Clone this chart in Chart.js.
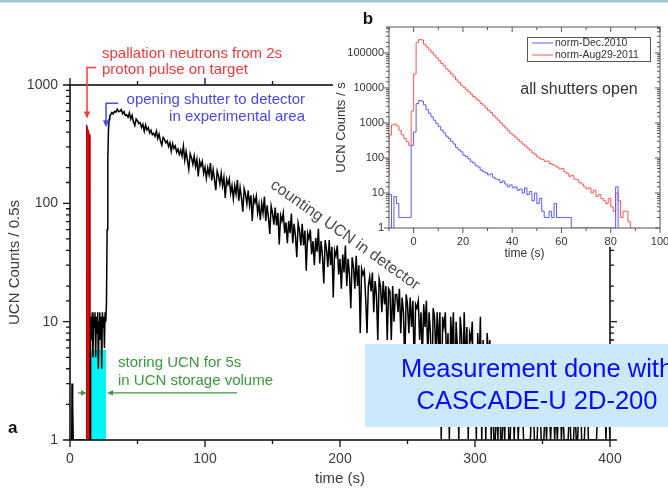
<!DOCTYPE html>
<html>
<head>
<meta charset="utf-8">
<script src="https://cdn.jsdelivr.net/npm/chart.js@4.4.0/dist/chart.umd.min.js"></script>
<style>
  body { margin: 0; width: 668px; height: 488px; overflow: hidden; background: #fff; position: relative; }
  #main { position: absolute; left: 0; top: 0; }
  #inset { position: absolute; left: 333px; top: 0; }
  #rule { position: absolute; left: 0; top: 0; width: 668px; height: 2px; background: #9ec3d3; border-bottom: 1px solid #d6e7ef; }
</style>
</head>
<body>
<canvas id="main" width="668" height="488"></canvas>
<canvas id="inset" width="335" height="262"></canvas>
<div id="rule"></div>
<script>
const FONT = '"Liberation Sans", Arial, Helvetica, sans-serif';
Chart.defaults.font.family = FONT;
Chart.defaults.color = '#3a3a3a';

// ---------- panel a : UCN counts per 0.5 s ----------
const bgTimes = [0, 1.3, 1.5, 1.7, 2.0, 2.2, 2.4, 14.9];
const bgCounts = [1, 1, 3, 1, 1, 2, 1, 1];

// 2 s proton pulse
const pulseTimes = [11.9, 12.3, 13.3, 14.4, 14.8];
const pulseCounts = [1, 460, 420, 380, 1];

// storage period, 0.5 s bins from 15 s
const storeStart = 15.0;
const binWidth = 0.5;
const storeCounts = [6, 11, 7, 12, 5, 11, 9, 12, 5, 11, 8, 12, 4, 10, 12, 7, 11, 4, 12, 9, 11, 6, 12, 10];
const storeSpan = [15.4, 26.7];
const storeLevel = 5.8;

// shutter opening
const riseTimes = [27, 27.5, 28, 28.5, 29, 29.5];
const riseCounts = [14, 60, 230, 420, 510, 550];

// emptying, one point per second from 30 s to 310 s
const decayStart = 30;
const decayCounts = [
  560, 585, 570, 600, 590, 625, 595,
  600, 621, 571, 595, 554,  561, 533, 581, 515, 554,  488, 455, 516, 499, 472,
  481, 438, 466, 407, 460,  418, 436, 394, 414, 380,  391, 368, 408, 353, 385,
  337, 310, 361, 347, 324,  337, 302, 325, 276, 320,  291, 306, 270, 287, 259,
  282, 251, 305, 231, 274,  231, 194, 263, 243, 214,  251, 204, 235, 169, 228,
  206, 226, 179, 202, 163,  199, 174, 219, 156, 193,  160, 129, 187, 170, 146,
  179, 140, 166, 111, 160,  144, 161, 122, 141, 109,  141, 120, 157, 105, 136,
  111, 85, 133, 119, 99,    128, 96, 117, 71, 112,    101, 115, 83, 98, 72,
  100, 83, 114, 71, 96,     76, 55, 95, 83, 66,       92, 65, 83, 45, 79,
  71, 83, 56, 69, 46,       71, 56, 82, 46, 67,       53, 35, 68, 59, 44,
  67, 44, 59, 27, 56,       50, 60, 37, 48, 30,       51, 39, 61, 31, 48,
  36, 21, 49, 41, 29,       49, 30, 43, 16, 40,       36, 44, 25, 34, 19,
  37, 26, 44, 20, 34,       25, 13, 35, 29, 19,       36, 20, 30, 8, 28,
  25, 27, 16, 8, 20,        24, 18, 26, 12, 22,       17, 7, 23, 20, 12,
  22, 14, 20, 7, 19,        18, 7, 20, 10, 17,        17, 12, 19, 8, 16,
  12, 4, 17, 14, 8,         16, 9, 15, 4, 14,         13, 15, 7, 12, 5,
  14, 9, 15, 5, 12,         8, 2, 13, 11, 5,          12, 6, 12, 1, 11,
  9, 12, 4, 8, 1,           11, 6, 12, 2, 10,         6, 1, 11, 8, 3,
  12, 4, 9, 1, 8,           7, 10, 2, 6, 1,           8, 4, 11, 1, 7,
  4, 1, 8, 5
];

// sparse counts after 310 s
const tailStart = 311;
const tailCounts = [
  7, 1, 3, 1, 1, 2, 1, 6, 1, 1,
  2, 1, 3, 5, 1, 1, 2, 3, 1, 2,
  3, 1, 2, 4, 2, 1, 1, 1, 1, 1,
  1, 2, 3, 1, 1, 1, 2, 3, 1, 1,
  1, 2, 1, 3, 2, 1, 2, 3, 1, 2,
  1, 2, 3, 1, 2, 1, 1, 1, 1, 2,
  1, 1, 1, 2, 1, 1, 2, 3, 1, 1,
  1, 2, 3, 1, 1, 1, 1, 1, 1, 1,
  2, 3, 2, 4, 2, 3, 1, 3, 2, 1
];

const mainXTicks = [0, 100, 200, 300, 400];
const mainYTicks = [1, 10, 100, 1000];

// annotation anchors (time s, counts)
const pulseMark = { t: 12.6, v: 520 };
const shutterMark = { t: 26.7, v: 440 };
const storeMark = { from: 12.6, to: 27.4, v: 2.5, tailLeft: 5.9, tailRight: 123.7 };

// ---------- panel b : counts per second, all shutters open ----------
const insetStart = -10;
const insetSeries = ['norm-Dec.2010', 'norm-Aug29-2011'];
const decCounts = [
  10, 9, 0.5, 8, 5, 2, 2, 2, 2, 2,
  230, 550, 3600, 4400, 4200, 3300, 2400, 1900, 1500, 1200,
  950, 800, 620, 520, 420, 360, 300, 250, 200, 170,
  150, 120, 110, 95, 80, 72, 60, 55, 45, 40,
  38, 33, 35, 28, 25, 24, 20, 22, 18, 15,
  17, 14, 15, 12, 13, 10, 14, 9, 11, 6,
  10, 5, 7, 3, 2, 2, 3, 2, 5, 2,
  2, 2, 2, 2, 2, 1, 1, 1, 1, 1,
  1, 1, 1, 1, 1, 1, 1, 1, 1, 1,
  1, 1, 1, 15, 0.5, 0.5, 0.5, 0.5, 0.5, 0.5,
  0.5, 0.5, 0.5, 0.5, 0.5, 0.5, 0.5, 0.5, 0.5, 0.5
];
const augCounts = [
  30, 450, 880, 920, 820, 620, 460, 360, 290, 230,
  2200, 25000, 200000, 240000, 235000, 178000, 148000, 123000, 105000, 87000,
  72000, 60000, 50000, 43000, 35000, 30000, 25000, 21000, 17000, 14500,
  12000, 10500, 9000, 7800, 6600, 5700, 4900, 4300, 3600, 3200,
  2700, 2300, 2000, 1650, 1400, 1200, 1000, 850, 720, 600,
  510, 450, 390, 340, 290, 250, 220, 190, 165, 140,
  125, 107, 95, 90, 80, 82, 70, 65, 60, 55,
  48, 50, 40, 36, 30, 32, 25, 24, 20, 18,
  15, 13, 14, 10, 12, 8, 9, 7, 6, 5,
  7, 4, 3, 10, 6, 2, 3, 3, 1.5, 1,
  0.5, 0.5, 1, 0.5, 0.5, 0.5, 0.5, 0.5, 0.5, 0.5
];
const insetXTicks = [0, 20, 40, 60, 80, 100];

// ---------- helpers ----------
const isDecade = v => { const e = Math.round(Math.log10(v)); return Math.abs(v - Math.pow(10, e)) < 1e-6; };
const pts = (times, vals) => vals.map((v, i) => ({ x: times[i], y: v }));
const regular = (start, step, vals) => vals.map((v, i) => ({ x: start + i * step, y: v }));
const steps = vals => {
  const p = regular(insetStart, 1, vals);
  p.push({ x: insetStart + vals.length, y: vals[vals.length - 1] });
  return p;
};

const countsLine = [
  ...pts(bgTimes, bgCounts),
  ...regular(storeStart, binWidth, storeCounts),
  ...pts(riseTimes, riseCounts),
  ...regular(decayStart, 1, decayCounts),
  ...regular(tailStart, 1, tailCounts)
];

// frame with tick marks on all four sides
const axisFrame = {
  id: 'axisFrame',
  afterDatasetsDraw(chart, args, o) {
    const { ctx, chartArea: a, scales: { x, y } } = chart;
    ctx.save();
    ctx.strokeStyle = o.color;
    ctx.lineWidth = o.tickWidth;
    ctx.beginPath();
    for (const t of x.ticks) {
      const p = x.getPixelForValue(t.value);
      const len = t.label ? o.major : o.minor;
      ctx.moveTo(p, a.bottom); ctx.lineTo(p, a.bottom + o.dir.bottom * len);
      ctx.moveTo(p, a.top); ctx.lineTo(p, a.top - o.dir.top * len);
    }
    for (const t of y.ticks) {
      const p = y.getPixelForValue(t.value);
      if (p < a.top - 0.5) continue;
      const len = t.label ? o.major : o.minor;
      ctx.moveTo(a.left, p); ctx.lineTo(a.left - o.dir.left * len, p);
      ctx.moveTo(a.right, p); ctx.lineTo(a.right + o.dir.right * len, p);
    }
    ctx.stroke();
    ctx.lineWidth = o.frameWidth;
    ctx.strokeRect(a.left, a.top, a.right - a.left, a.bottom - a.top);
    ctx.restore();
  }
};

function arrowHead(ctx, x, y, dir, size) {
  ctx.beginPath();
  if (dir === 'down') { ctx.moveTo(x, y); ctx.lineTo(x - size * 0.45, y - size); ctx.lineTo(x + size * 0.45, y - size); }
  else if (dir === 'right') { ctx.moveTo(x, y); ctx.lineTo(x - size, y - size * 0.45); ctx.lineTo(x - size, y + size * 0.45); }
  else { ctx.moveTo(x, y); ctx.lineTo(x + size, y - size * 0.45); ctx.lineTo(x + size, y + size * 0.45); }
  ctx.closePath();
  ctx.fill();
}

// labels, arrows and the detector note for panel a
const mainNotes = {
  id: 'mainNotes',
  afterDraw(chart) {
    const { ctx, scales: { x, y } } = chart;
    ctx.save();
    ctx.textBaseline = 'middle';
    ctx.lineWidth = 1.5;

    // proton pulse
    const px = x.getPixelForValue(pulseMark.t), py = y.getPixelForValue(pulseMark.v);
    const elbow = py - 51;
    ctx.strokeStyle = ctx.fillStyle = '#f03a3a';
    ctx.beginPath();
    ctx.moveTo(px + 9, elbow); ctx.lineTo(px, elbow); ctx.lineTo(px, py - 5);
    ctx.stroke();
    arrowHead(ctx, px, py, 'down', 7);
    ctx.font = '15px ' + FONT;
    ctx.textAlign = 'left';
    ctx.fillText('spallation neutrons from 2s', px + 15, elbow - 14);
    ctx.fillText('proton pulse on target', px + 15, elbow + 2);

    // shutter opening
    const sx = x.getPixelForValue(shutterMark.t), sy = y.getPixelForValue(shutterMark.v);
    const selbow = sy - 24;
    ctx.strokeStyle = ctx.fillStyle = '#4848f0';
    ctx.beginPath();
    ctx.moveTo(sx + 12, selbow); ctx.lineTo(sx, selbow); ctx.lineTo(sx, sy - 5);
    ctx.stroke();
    arrowHead(ctx, sx, sy, 'down', 7);
    ctx.textAlign = 'right';
    ctx.fillText('opening shutter to detector', 305, selbow - 3);
    ctx.fillText('in experimental area', 305, selbow + 14);

    // storage window
    const gy = y.getPixelForValue(storeMark.v);
    const g0 = x.getPixelForValue(storeMark.from), g1 = x.getPixelForValue(storeMark.to);
    ctx.strokeStyle = ctx.fillStyle = '#3a993a';
    ctx.lineWidth = 1.3;
    ctx.beginPath();
    ctx.moveTo(x.getPixelForValue(storeMark.tailLeft), gy); ctx.lineTo(g0 - 4, gy);
    ctx.moveTo(g1 + 4, gy); ctx.lineTo(x.getPixelForValue(storeMark.tailRight), gy);
    ctx.stroke();
    arrowHead(ctx, g0, gy, 'right', 6);
    arrowHead(ctx, g1, gy, 'left', 6);
    ctx.textAlign = 'left';
    ctx.fillText('storing UCN for 5s', g1 + 11, gy - 30);
    ctx.fillText('in UCN storage volume', g1 + 11, gy - 12);

    // decay note along the curve
    ctx.save();
    ctx.translate(345, 235);
    ctx.rotate(35.3 * Math.PI / 180);
    ctx.fillStyle = '#4a4a4a';
    ctx.font = '16px ' + FONT;
    ctx.textAlign = 'center';
    ctx.fillText('counting UCN in detector', 0, 0);
    ctx.restore();

    // panel letter
    ctx.fillStyle = '#111';
    ctx.font = 'bold 17px ' + FONT;
    ctx.textAlign = 'left';
    ctx.fillText('a', 8, 428);

    // detector note box
    ctx.fillStyle = '#cce9fb';
    ctx.fillRect(365, 344, 340, 83);
    ctx.fillStyle = '#0a0aff';
    ctx.font = '25.5px ' + FONT;
    ctx.textAlign = 'center';
    ctx.fillText('Measurement done with', 537, 370);
    ctx.fillText('CASCADE-U 2D-200', 537, 402);
    ctx.restore();
  }
};

new Chart(document.getElementById('main'), {
  type: 'line',
  data: {
    datasets: [
      { data: countsLine, borderColor: '#000', borderWidth: 1.5, fill: false, order: 0 },
      { data: [{ x: storeSpan[0], y: storeLevel }, { x: storeSpan[1], y: storeLevel }],
        borderWidth: 0, backgroundColor: '#00f4f4', fill: 'start', order: 1 },
      { data: pts(pulseTimes, pulseCounts), borderColor: '#a00000', borderWidth: 1,
        backgroundColor: '#f20000', fill: 'start', order: 2 }
    ]
  },
  options: {
    responsive: false,
    animation: false,
    events: [],
    elements: { point: { radius: 0 }, line: { tension: 0 } },
    layout: { autoPadding: false, padding: { top: 85, right: 58, left: 0, bottom: 0 } },
    plugins: {
      legend: { display: false },
      tooltip: { enabled: false },
      axisFrame: { color: '#111', tickWidth: 1.3, frameWidth: 1.6, major: 7, minor: 4,
                   dir: { top: 1, bottom: 1, left: 1, right: 1 } }
    },
    scales: {
      x: {
        type: 'linear', min: 0, max: 400,
        grid: { display: false, drawTicks: false, tickLength: 0 },
        border: { display: false },
        ticks: { stepSize: 50, autoSkip: false, maxRotation: 0, padding: 11,
                 font: { size: 14 }, color: '#3c3c3c',
                 callback: v => mainXTicks.includes(v) ? String(v) : '' },
        title: { display: true, text: 'time (s)', font: { size: 15 }, color: '#3c3c3c', padding: { top: 0, bottom: 0 } },
        afterFit: s => { s.height = 48; s.paddingLeft = 0; s.paddingRight = 0; }
      },
      y: {
        type: 'logarithmic', min: 1, max: 1000,
        grid: { display: false, drawTicks: false, tickLength: 0 },
        border: { display: false },
        ticks: { autoSkip: false, padding: 12, font: { size: 14 }, color: '#3c3c3c',
                 callback: v => (isDecade(v) && mainYTicks.includes(Math.round(v))) ? String(Math.round(v)) : '' },
        title: { display: true, text: 'UCN Counts / 0.5s', font: { size: 15 }, color: '#3c3c3c', padding: { top: 6, bottom: 0 } },
        afterFit: s => { s.width = 70; s.paddingTop = 0; s.paddingBottom = 0; }
      }
    }
  },
  plugins: [axisFrame, mainNotes]
});

// ---------- panel b ----------
const insetBack = {
  id: 'insetBack',
  beforeDraw(chart) {
    const { ctx, width } = chart;
    ctx.save();
    ctx.fillStyle = '#fff';
    ctx.fillRect(0, 0, width, 196);
    ctx.fillRect(42, 196, width - 42, 51);
    ctx.restore();
  }
};

const insetNotes = {
  id: 'insetNotes',
  afterDraw(chart) {
    const { ctx, data } = chart;
    ctx.save();
    // legend
    ctx.strokeStyle = '#555';
    ctx.lineWidth = 1;
    ctx.strokeRect(194.5, 37.5, 123, 24);
    ctx.font = '10.5px ' + FONT;
    ctx.textAlign = 'left';
    ctx.textBaseline = 'middle';
    data.datasets.forEach((ds, i) => {
      const ly = 43 + i * 12;
      ctx.strokeStyle = ds.borderColor;
      ctx.beginPath(); ctx.moveTo(199, ly); ctx.lineTo(220, ly); ctx.stroke();
      ctx.fillStyle = '#333';
      ctx.fillText(ds.label, 222, ly);
    });
    ctx.fillStyle = '#333';
    ctx.font = '16px ' + FONT;
    ctx.textAlign = 'center';
    ctx.fillText('all shutters open', 246, 90);
    ctx.fillStyle = '#111';
    ctx.font = 'bold 17px ' + FONT;
    ctx.fillText('b', 35, 19);
    ctx.restore();
  }
};

new Chart(document.getElementById('inset'), {
  type: 'line',
  data: {
    datasets: [
      { label: insetSeries[0], data: steps(decCounts), borderColor: '#5a5aff', borderWidth: 1, stepped: 'after', fill: false },
      { label: insetSeries[1], data: steps(augCounts), borderColor: '#ff5555', borderWidth: 1, stepped: 'after', fill: false }
    ]
  },
  options: {
    responsive: false,
    animation: false,
    events: [],
    elements: { point: { radius: 0 } },
    layout: { autoPadding: false, padding: { top: 27, right: 8, left: 0, bottom: 0 } },
    plugins: {
      legend: { display: false },
      tooltip: { enabled: false },
      axisFrame: { color: '#555', tickWidth: 1, frameWidth: 1, major: 5, minor: 3,
                   dir: { top: -1, bottom: 1, left: 1, right: -1 } }
    },
    scales: {
      x: {
        type: 'linear', min: -10, max: 100,
        grid: { display: false, drawTicks: false, tickLength: 0 },
        border: { display: false },
        ticks: { stepSize: 10, autoSkip: false, maxRotation: 0, padding: 7,
                 font: { size: 11 }, color: '#333',
                 callback: v => insetXTicks.includes(v) ? String(v) : '' },
        title: { display: true, text: 'time (s)', font: { size: 12 }, color: '#333', padding: { top: 0, bottom: 1 } },
        afterFit: s => { s.height = 34; s.paddingLeft = 0; s.paddingRight = 0; }
      },
      y: {
        type: 'logarithmic', min: 1, max: 550000,
        grid: { display: false, drawTicks: false, tickLength: 0 },
        border: { display: false },
        ticks: { autoSkip: false, padding: 5, font: { size: 11 }, color: '#333',
                 callback: v => isDecade(v) ? String(Math.round(v)) : '' },
        title: { display: true, text: 'UCN Counts / s', font: { size: 13 }, color: '#333', padding: { top: 1, bottom: 0 } },
        afterFit: s => { s.width = 56; s.paddingTop = 0; s.paddingBottom = 0; }
      }
    }
  },
  plugins: [insetBack, axisFrame, insetNotes]
});
</script>
</body>
</html>
